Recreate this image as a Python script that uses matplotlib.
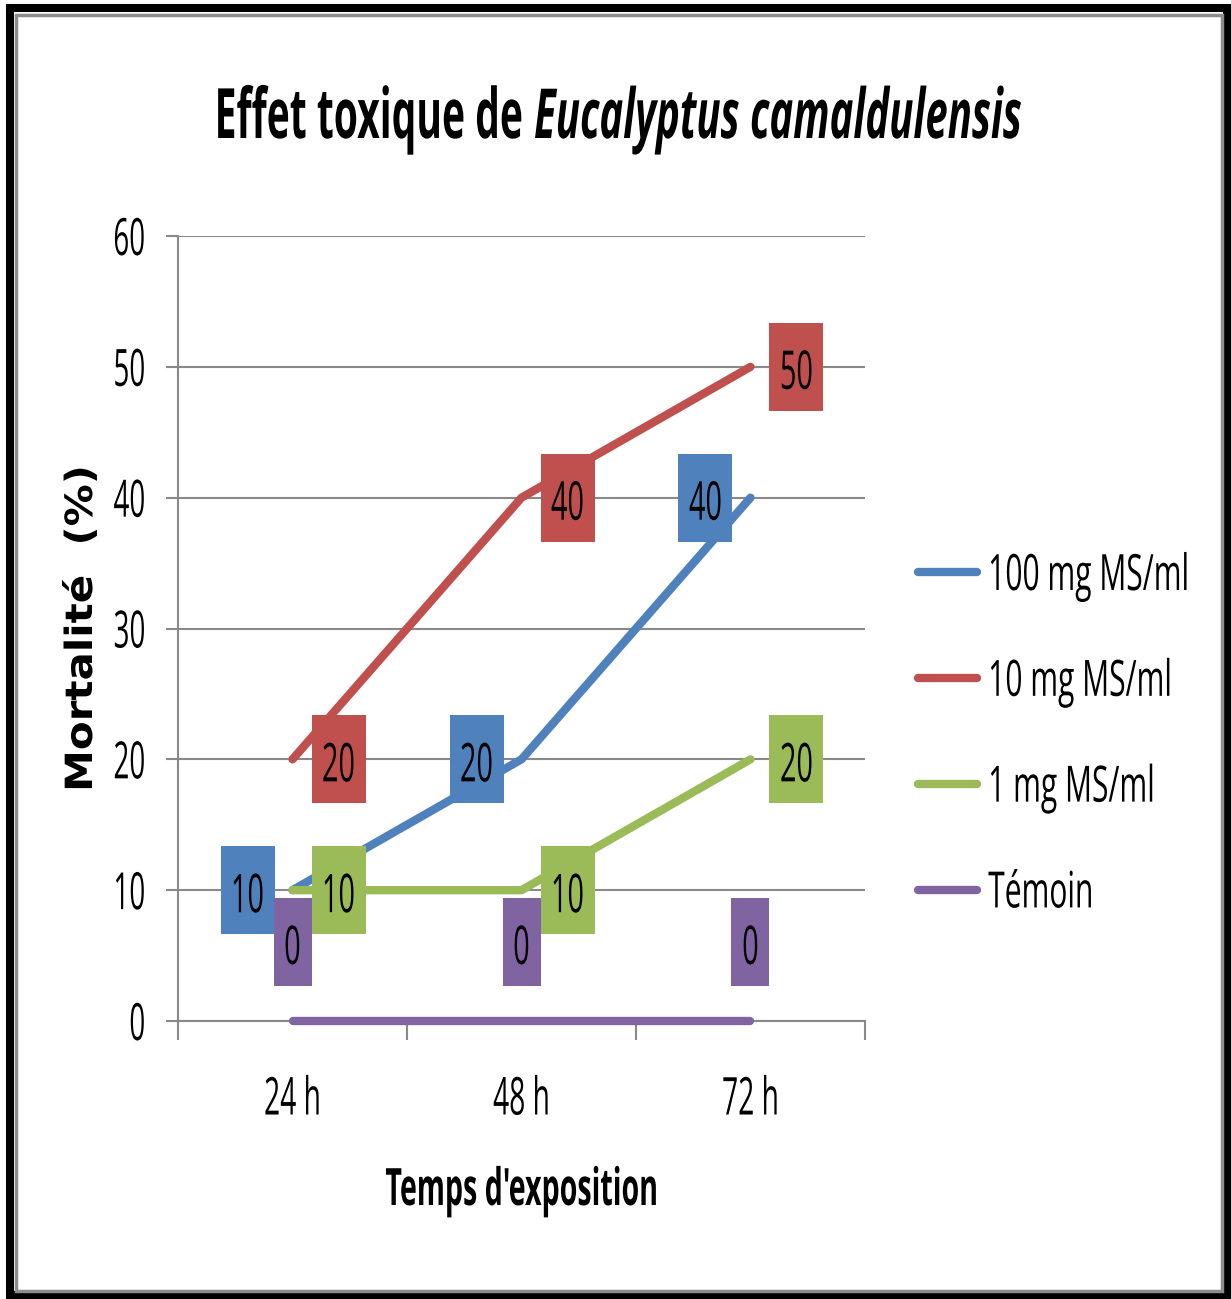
import matplotlib
matplotlib.use('Agg')
import numpy as np
import matplotlib.pyplot as plt
from matplotlib import font_manager as fm
from matplotlib.patches import Rectangle
from matplotlib.lines import Line2D
from matplotlib.patheffects import AbstractPathEffect
from matplotlib.transforms import Affine2D, ScaledTranslation

# Data
periods = ['24 h', '48 h', '72 h']
doses = ['100 mg MS/ml', '10 mg MS/ml', '1 mg MS/ml', 'Témoin']
mort_100 = [10, 20, 40]
mort_10 = [20, 40, 50]
mort_1 = [10, 10, 20]
mort_temoin = [0, 0, 0]
series = [mort_100, mort_10, mort_1, mort_temoin]

# Style
colors = ['#4F81BD', '#C0504D', '#9BBB59', '#8064A2']
label_side = ['left', 'right', 'right', 'above']
grey = '#898989'
MIDCAP = 36  # half cap height in text-path units (100 per em)


def weight_of(f):
    return f.weight if isinstance(f.weight, int) else fm.weight_dict.get(f.weight, 400)


def pick_family(cands):
    for name in cands:
        fonts = [f for f in fm.fontManager.ttflist if f.name == name]
        if any(weight_of(f) >= 600 for f in fonts):
            return name, any(weight_of(f) >= 600 and f.style in ('italic', 'oblique') for f in fonts)
    return 'DejaVu Sans', True


family, has_bold_italic = pick_family(['Open Sans', 'Noto Sans', 'Lato', 'DejaVu Sans'])
plt.rcParams['font.family'] = [family, 'DejaVu Sans']


class Stretch(AbstractPathEffect):
    """Stretch glyph outlines (the original chart has tall, narrow lettering)."""

    def __init__(self, sy=1.85, cy=0.0, sx=1.0, shear=0.0):
        super().__init__()
        self.sy, self.cy, self.sx, self.shear = sy, cy, sx, shear

    def draw_path(self, renderer, gc, tpath, affine, rgbFace=None):
        v = tpath.vertices
        x0 = (v[:, 0].min() + v[:, 0].max()) / 2 if len(v) else 0.0
        t = (Affine2D().translate(-x0, -self.cy).skew(self.shear, 0)
             .scale(self.sx, self.sy).translate(x0, self.cy))
        renderer.draw_path(gc, tpath, t + affine, rgbFace)


W, H = 1231, 1299
fig = plt.figure(figsize=(W / 100, H / 100), dpi=100)
ax = fig.add_axes([178 / W, 1 - 1021 / H, 687 / W, 785 / H])

x = np.arange(len(periods))
for vals, c in zip(series, colors):
    ax.plot(x, vals, color=c, lw=6, solid_capstyle='round', solid_joinstyle='round',
            zorder=3, clip_on=False)


def box_label(xv, yv, text, color, side):
    w, h = 22 + 16 * len(text), 88
    if side == 'left':
        cx, cy = -45, 0
    elif side == 'right':
        cx, cy = 46, 0
    else:
        cx, cy = 0, 79
    tr = fig.dpi_scale_trans + ScaledTranslation(xv, yv, ax.transData)
    ax.add_patch(Rectangle(((cx - w / 2) / 100, (cy - h / 2) / 100), w / 100, h / 100,
                           transform=tr, facecolor=color, edgecolor='none',
                           zorder=5, clip_on=False))
    t = ax.annotate(text, (xv, yv), xytext=(cx, cy - 22), textcoords='offset pixels',
                    ha='center', va='baseline', fontsize=20.8, zorder=6,
                    annotation_clip=False)
    t.set_path_effects([Stretch(1.85)])


for vals, c, side in zip(series, colors, label_side):
    for xi, v in zip(x, vals):
        box_label(xi, v, str(v), c, side)

# Axes
ax.set_xlim(-0.5, 2.5)
ax.set_ylim(0, 60)
ax.set_yticks(range(0, 61, 10))
ax.set_xticks(x)
ax.set_xticklabels(periods)
ax.set_xticks([-0.5, 0.5, 1.5, 2.5], minor=True)
ax.yaxis.grid(True, color=grey, lw=1.5)
ax.set_axisbelow(True)
for s in ['top', 'right']:
    ax.spines[s].set_visible(False)
for s in ['left', 'bottom']:
    ax.spines[s].set_color(grey)
    ax.spines[s].set_linewidth(1.5)
ax.tick_params(axis='x', which='major', length=0, pad=46, labelsize=20.3)
ax.tick_params(axis='x', which='minor', length=13.7, width=1.5, color=grey)
ax.tick_params(axis='y', length=8.6, width=1.5, color=grey, pad=15, labelsize=20)
for t in ax.get_xticklabels() + ax.get_yticklabels():
    t.set_path_effects([Stretch(1.85, MIDCAP)])

ax.set_xlabel("Temps d'exposition", fontsize=20.6, fontweight='bold')
ax.xaxis.set_label_coords(0.5, (1021 - 1205) / 785)
ax.xaxis.label.set_va('baseline')
ax.xaxis.label.set_path_effects([Stretch(1.8)])

ax.set_ylabel('Mortalité  (%)', fontsize=27, fontweight='bold', family='DejaVu Sans')
ax.yaxis.set_label_coords((82 - 178) / 687, 0.5)
ax.yaxis.label.set_va('center')
ax.yaxis.label.set_path_effects([Stretch(1.0, 0, 1.12)])

# Legend
handles = [Line2D([], [], color=c, lw=6, solid_capstyle='round') for c in colors]
leg = ax.legend(handles, doses, loc='center left', bbox_to_anchor=(918 / W, 1 - 734 / H),
                bbox_transform=fig.transFigure, frameon=False, fontsize=21.6,
                handlelength=1.97, handletextpad=0.37, labelspacing=2.56,
                borderpad=0, borderaxespad=0)
for t in leg.get_texts():
    t.set_path_effects([Stretch(1.67, MIDCAP)])

# Title (plain part + italic species name)
t1 = fig.text(522 / W, 1 - 138 / H, 'Effet toxique de', ha='right', va='baseline',
              fontsize=28.1, fontweight='bold')
t1.set_path_effects([Stretch(1.78)])
t2 = fig.text(534 / W, 1 - 138 / H, 'Eucalyptus camaldulensis', ha='left', va='baseline',
              fontsize=28.9, fontweight='bold', style='italic' if has_bold_italic else 'normal')
t2.set_path_effects([Stretch(1.72, 0, 1.0, 0.0 if has_bold_italic else 0.2)])

# Chart frame
fig.add_artist(Rectangle((10 / W, 4 / H), 1217 / W, 1287 / H, transform=fig.transFigure,
                         fill=False, edgecolor='black', lw=5.8))
fig.add_artist(Rectangle((15.5 / W, 8 / H), 1206 / W, 1276.5 / H, transform=fig.transFigure,
                         fill=False, edgecolor='#8c8c8c', lw=2.5))

fig.savefig('out.png', dpi=100)
